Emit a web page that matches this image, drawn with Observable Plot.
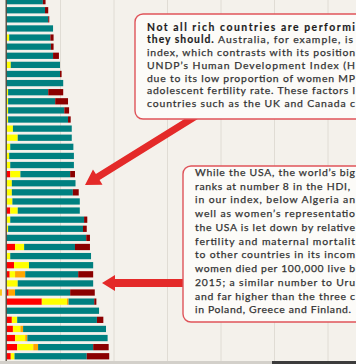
<!DOCTYPE html>
<html><head><meta charset="utf-8">
<script src="https://cdn.jsdelivr.net/npm/d3@7"></script>
<script src="https://cdn.jsdelivr.net/npm/@observablehq/plot@0.6"></script>
<style>
html,body{margin:0;padding:0;background:#f4f1eb;overflow:hidden;}
#wrap{position:relative;width:356px;height:364px;overflow:hidden;background:#f4f1eb;}
#wrap svg{position:absolute;left:0;top:0;}
.strip{position:absolute;height:3px;top:361px;}
</style></head><body><div id="wrap"></div>
<script>
// ranks of the 40 countries visible in this crop (top bar is cut)
const ranks = d3.range(1, 41).map(String);
const red     = [0,0,0,0,0,0,0,0,0,0, 0,0,0,0,0,0,0,0,0,0.7, 0,0,0,0.7,0,0,0,1.6,0,1.4, 0.6,0,0.4,6.6,0,1.0,1.2,1.6,2.0,0.8];
const yellow  = [0,0,0,0,0.5,0,0,0.8,0,0, 0.3,0.3,0.3,0.3,1.2,2.1,0.7,0.5,0.7,1.9, 1.0,1.0,1.1,1.4,0.7,0.3,0,1.7,0.7,2.8, 1.0,2.1,0,4.7,0,1.0,1.4,1.9,3.0,0.7];
const orange  = [0,0,0,0,0,0,0,0,0,0, 0,0,0,0,0,0,0,0,0,0, 0,0,0,0,0,0,0,0,0,0, 1.9,0,1.2,0.3,0,0,0.5,0.4,0.9,0];
const teal    = [6.8,7.2,7.8,8.7,7.7,8.3,8.7,9.2,10.0,10.6, 7.5,8.8,10.5,11.2,11.0,10.1,11.8,12.1,11.9,9.3, 11.9,11.4,12.6,11.6,13.8,14.0,14.9,9.5,15.1,12.0, 9.9,14.1,10.3,4.8,17.3,14.9,15.5,15.0,10.3,13.5];
const darkRed = [0.5,0.6,0.2,0,0.6,0.5,1.1,0,0.3,0, 2.8,2.4,0.9,0.5,0,0,0,0,0,0.9, 0,1.1,0,0,0.6,0.7,0.7,2.8,0,0, 2.8,0,4.6,0.4,0,1.2,0,0,2.9,4.2];
const segments = ["red", "yellow", "orange", "teal", "darkRed"];
const segmentColors = ["#e8242c", "#f7b81e", "#f07a26", "#22a2b8", "#ab2a24"];
const gridTicks = [10, 20, 30, 40, 50, 60];
const highlighted = ["33"];

const box1Lines = [
  [["Not all rich countries are performi", true]],
  [["they should.", true], [" Australia, for example, is", false]],
  [["index, which contrasts with its position", false]],
  [["UNDP\u2019s Human Development Index (H", false]],
  [["due to its low proportion of women MP", false]],
  [["adolescent fertility rate. These factors l", false]],
  [["countries such as the UK and Canada c", false]]
];
const box1Ends = [355, 353, 355, 355, 355, 355, 355];
const box2Lines = [
  "While the USA, the world\u2019s big",
  "ranks at number 8 in the HDI,",
  "in our index, below Algeria an",
  "well as women\u2019s representatio",
  "the USA is let down by relative",
  "fertility and maternal mortalit",
  "to other countries in its incom",
  "women died per 100,000 live b",
  "2015; a similar number to Uru",
  "and far higher than the three c",
  "in Poland, Greece and Finland."
];
const box2Ends = [355, 350, 355, 355, 355, 355, 355, 355, 355, 355, 351];

const rows = [];
ranks.forEach((r, i) => {
  const vals = [red[i], yellow[i], orange[i], teal[i], darkRed[i]];
  segments.forEach((s, j) => { if (vals[j] > 0) rows.push({rank: r, segment: s, value: vals[j]}); });
});

const plot = Plot.plot({
  width: 356, height: 364, margin: 0,
  style: {background: "transparent"},
  x: {domain: [0, 349.5 / 5.35], range: [6.5, 356], axis: null},
  y: {domain: ranks, range: [-2, 359.4], paddingInner: 0.31, paddingOuter: 0, round: false, axis: null},
  color: {domain: segments, range: segmentColors},
  marks: [
    Plot.ruleX(gridTicks, {stroke: "#e0dcd4", strokeWidth: 1}),
    Plot.barX(rows, Plot.stackX({x: "value", y: "rank", fill: "segment", order: segments})),
    Plot.ruleX([0], {dx: -0.8, stroke: "#4a4034", strokeWidth: 1.3}),
    Plot.barX(highlighted, {x1: -1.22, x2: -0.85, y: d => d, fill: "#f8c51c"})
  ]
});
const wrap = document.getElementById("wrap");
wrap.appendChild(plot);

// annotation layer
const svg = d3.select(wrap).append("svg").attr("width", 356).attr("height", 364);
function arrow(x0, y0, x1, y1, w, hl, hw) {
  const dx = x1 - x0, dy = y1 - y0, L = Math.hypot(dx, dy);
  const ux = dx / L, uy = dy / L, nx = -uy, ny = ux;
  const bx = x1 - ux * hl, by = y1 - uy * hl;
  const pts = [
    [x0 + nx * w / 2, y0 + ny * w / 2], [bx + nx * w / 2, by + ny * w / 2], [bx + nx * hw, by + ny * hw],
    [x1, y1], [bx - nx * hw, by - ny * hw], [bx - nx * w / 2, by - ny * w / 2], [x0 - nx * w / 2, y0 - ny * w / 2]
  ];
  svg.append("polygon").attr("points", pts.map(p => p.join(",")).join(" ")).attr("fill", "#e42a29");
}
arrow(196, 116, 85, 185, 7, 15, 9);
arrow(190, 283, 102, 283, 8, 13, 8);

const boxStyle = s => s.attr("fill", "#fcfbf8").attr("stroke", "#df545a").attr("stroke-width", 1.4).attr("rx", 8);
svg.append("rect").attr("x", 135).attr("y", 14).attr("width", 260).attr("height", 105).call(boxStyle);
svg.append("rect").attr("x", 183).attr("y", 166).attr("width", 220).attr("height", 156).call(boxStyle);

const font = "Lato, 'Open Sans', sans-serif";
box1Lines.forEach((parts, i) => {
  const t = svg.append("text").attr("x", 147).attr("y", 30.5 + i * 12.75)
    .attr("font-family", font).attr("font-size", 10.4).attr("fill", "#333")
    .attr("textLength", box1Ends[i] - 147).attr("lengthAdjust", "spacing");
  parts.forEach(([s, b]) => t.append("tspan").text(s)
    .attr("font-weight", b ? 700 : 400).attr("fill", b ? "#1c1c1c" : "#333")
    .attr("stroke", b ? "#1c1c1c" : "#333").attr("stroke-width", b ? 0.15 : 0.25));
});
box2Lines.forEach((s, i) => {
  svg.append("text").attr("x", 195).attr("y", 176 + i * 13.73)
    .attr("font-family", font).attr("font-size", 10.4).attr("fill", "#333")
    .attr("stroke", "#333").attr("stroke-width", 0.25)
    .attr("textLength", box2Ends[i] - 195).attr("lengthAdjust", "spacing").text(s);
});

// bottom page edge
const s1 = document.createElement("div"); s1.className = "strip"; s1.style.left = "0px"; s1.style.width = "272px"; s1.style.background = "#d3d0ca"; wrap.appendChild(s1);
const s2 = document.createElement("div"); s2.className = "strip"; s2.style.left = "272px"; s2.style.width = "84px"; s2.style.background = "#3c3c3c"; wrap.appendChild(s2);
</script></body></html>
